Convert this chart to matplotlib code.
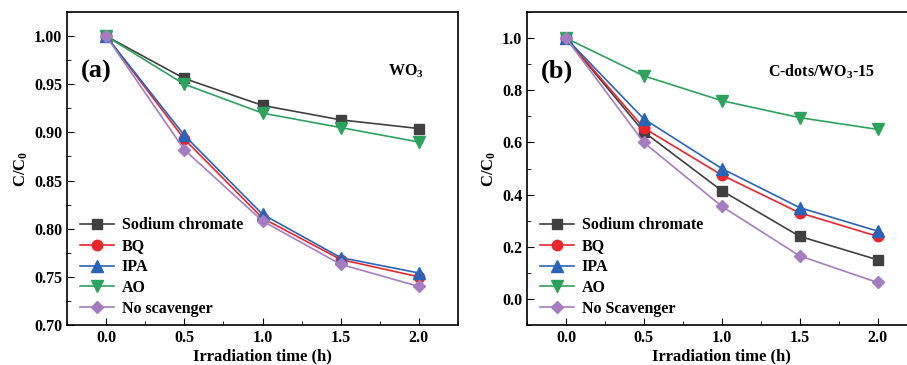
import matplotlib
matplotlib.use("Agg")
import matplotlib.pyplot as plt
from matplotlib.ticker import MultipleLocator

plt.rcParams['font.family'] = ['Liberation Serif', 'DejaVu Serif']
plt.rcParams['font.weight'] = 'bold'
plt.rcParams['mathtext.fontset'] = 'custom'
plt.rcParams['mathtext.rm'] = 'Liberation Serif:bold'
plt.rcParams['mathtext.it'] = 'Liberation Serif:bold'
plt.rcParams['mathtext.bf'] = 'Liberation Serif:bold'

tiempo = [0.0, 0.5, 1.0, 1.5, 2.0]

# painel (a) WO3
a_sodio = [1.0, 0.956, 0.928, 0.913, 0.904]
a_bq = [1.0, 0.893, 0.811, 0.768, 0.750]
a_ipa = [1.0, 0.897, 0.815, 0.770, 0.754]
a_ao = [1.0, 0.950, 0.920, 0.905, 0.890]
a_nenhum = [1.0, 0.882, 0.808, 0.763, 0.740]

# painel (b) C-dots/WO3-15
b_sodio = [1.0, 0.640, 0.415, 0.240, 0.150]
b_bq = [1.0, 0.655, 0.475, 0.330, 0.240]
b_ipa = [1.0, 0.690, 0.500, 0.350, 0.260]
b_ao = [1.0, 0.855, 0.760, 0.695, 0.650]
b_nenhum = [1.0, 0.600, 0.355, 0.165, 0.063]

rotulos_a = ["Sodium chromate", "BQ", "IPA", "AO", "No scavenger"]
rotulos_b = ["Sodium chromate", "BQ", "IPA", "AO", "No Scavenger"]

cores = ["#404040", "#e8262c", "#2a64b8", "#2ca25c", "#a57cc0"]
marcadores = ["s", "o", "^", "v", "D"]
tamanhos = [7, 7.5, 8, 8, 6.5]

fig = plt.figure(figsize=(9.07, 3.65), dpi=100)
W, H = 907, 365

def eixo(x0, x1):
    return fig.add_axes([x0 / W, (H - 325) / H, (x1 - x0) / W, 313 / H])

ax1 = eixo(67, 458)
ax2 = eixo(527, 916.5)

def plota(ax, series, rotulos):
    for s, r, c, m, t in zip(series, rotulos, cores, marcadores, tamanhos):
        ax.plot(tiempo, s, color=c, marker=m, markersize=t, linewidth=1.2, label=r)

plota(ax1, [a_sodio, a_bq, a_ipa, a_ao, a_nenhum], rotulos_a)
plota(ax2, [b_sodio, b_bq, b_ipa, b_ao, b_nenhum], rotulos_b)

ax1.set_xlim(-0.25, 2.25)
ax1.set_ylim(0.70, 1.025)
ax1.yaxis.set_major_locator(MultipleLocator(0.05))
ax1.yaxis.set_minor_locator(MultipleLocator(0.025))
ax1.yaxis.set_major_formatter(matplotlib.ticker.FormatStrFormatter("%.2f"))

ax2.set_xlim(-0.25, 2.25)
ax2.set_ylim(-0.1, 1.1)
ax2.yaxis.set_major_locator(MultipleLocator(0.2))
ax2.yaxis.set_minor_locator(MultipleLocator(0.1))
ax2.yaxis.set_major_formatter(matplotlib.ticker.FormatStrFormatter("%.1f"))

for ax in (ax1, ax2):
    ax.xaxis.set_major_locator(MultipleLocator(0.5))
    ax.xaxis.set_minor_locator(MultipleLocator(0.25))
    ax.xaxis.set_major_formatter(matplotlib.ticker.FormatStrFormatter("%.1f"))
    ax.tick_params(which="both", direction="in", labelsize=11.5)
    ax.tick_params(which="major", length=5)
    ax.tick_params(which="minor", length=3)
    for sp in ax.spines.values():
        sp.set_linewidth(1.2)
    ax.set_xlabel("Irradiation time (h)", fontsize=12, fontweight="bold", labelpad=2)
    ax.set_ylabel("C/C$_0$", fontsize=12, fontweight="bold", labelpad=3)
    ax.legend(loc="lower left", bbox_to_anchor=(0.013, 0.0), frameon=False,
              fontsize=11.5, handlelength=2.1, labelspacing=0.31,
              borderaxespad=0.1, handletextpad=0.5)

ax1.text(0.035, 0.81, "(a)", transform=ax1.transAxes, fontsize=19, fontweight="bold", va="center")
ax1.text(0.82, 0.81, "WO$_3$", transform=ax1.transAxes, fontsize=11.5, fontweight="bold", va="center")
ax2.text(0.035, 0.81, "(b)", transform=ax2.transAxes, fontsize=19, fontweight="bold", va="center")
ax2.text(0.62, 0.81, "C-dots/WO$_3$-15", transform=ax2.transAxes, fontsize=11.5, fontweight="bold", va="center")

fig.savefig("out.png", dpi=100)
